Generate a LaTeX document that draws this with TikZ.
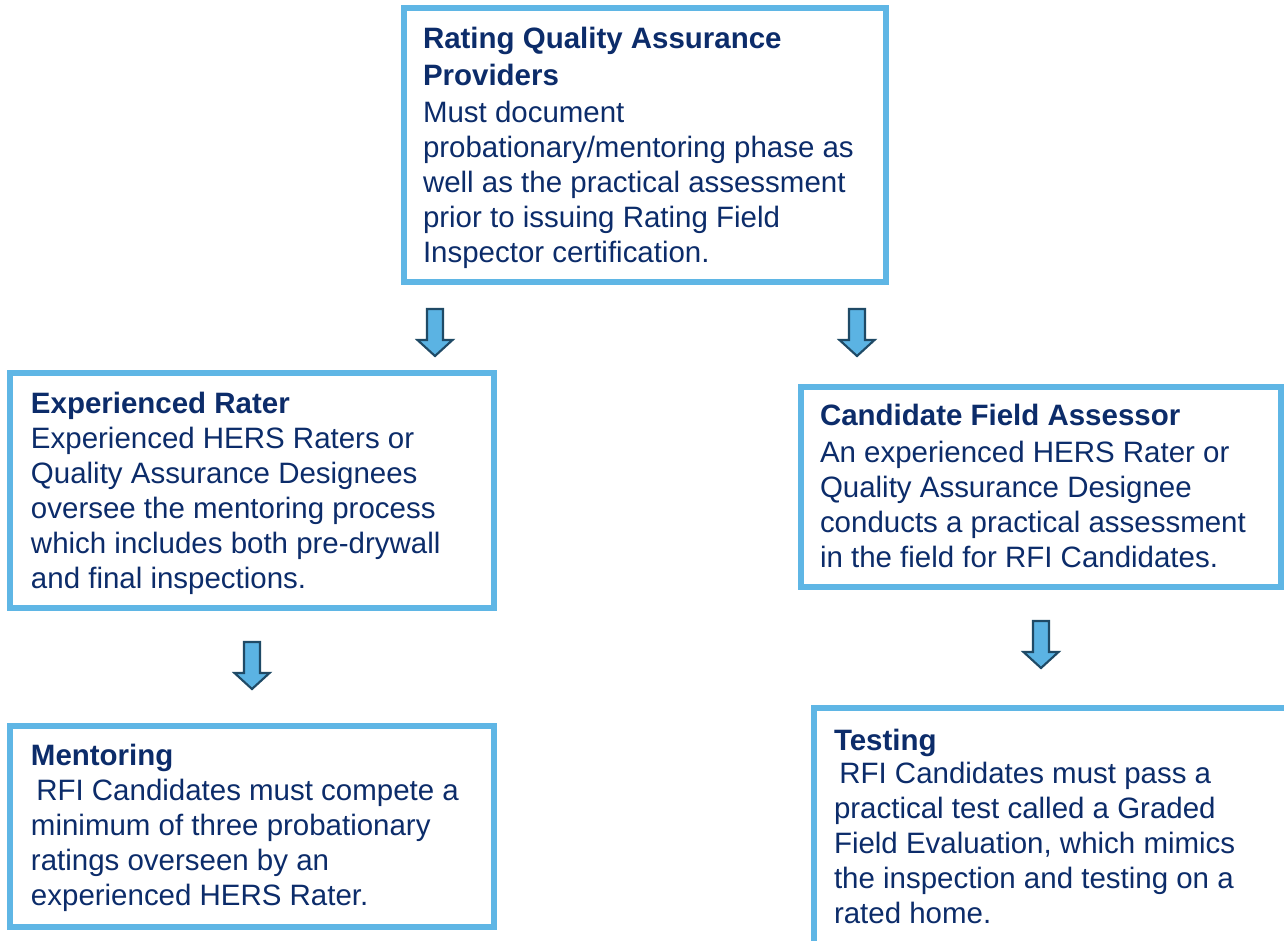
\documentclass[tikz,border=0pt]{standalone}
\usepackage{fontspec}
\setmainfont{Liberation Sans}
\definecolor{boxblue}{HTML}{5FB6E5}
\definecolor{arrfill}{HTML}{5BB3E3}
\definecolor{arrline}{HTML}{1F4A66}
\definecolor{navy}{HTML}{0C2C6A}
\begin{document}
\begin{tikzpicture}[x=0.75pt,y=-0.75pt,
  box/.style={draw=boxblue, line width=4.5pt, rectangle, inner sep=0pt, outer sep=0pt, anchor=north west, fill=white},
  txt/.style={anchor=north west, align=left, inner sep=0pt, outer sep=0pt, text=navy,
    font=\fontsize{22.1pt}{26.25pt}\selectfont},
  blockarrow/.style={draw=arrline, fill=arrfill, line width=1.6pt, line join=miter},
  downarr/.pic={\draw[blockarrow] (-8,0) -- (8,0) -- (8,31) -- (17.5,31) -- (0,47) -- (-17.5,31) -- (-8,31) -- cycle;}
]
\clip (0,0) rectangle (1284,940);
\fill[white] (0,0) rectangle (1284,940);

% boxes
\node[box, minimum width=361.5pt, minimum height=205.5pt] (b1) at (404,8) {};
\node[box, minimum width=363pt, minimum height=176.25pt] (b2) at (10,373) {};
\node[box, minimum width=363pt, minimum height=150.75pt] (b3) at (10,726) {};
\node[box, minimum width=360pt, minimum height=150pt] (b4) at (801,387) {};
\node[box, minimum width=364.5pt, minimum height=189pt] (b5) at (814,708) {};

% texts
\node[txt] (t1) at (423,27) {\textbf{Rating Quality Assurance}\\[1.5pt]
\textbf{Providers}\\[1.5pt]
Must document\\
probationary/mentoring phase as\\
well as the practical assessment\\
prior to issuing Rating Field\\
Inspector certification.};

\node[txt] (t2) at (31,392) {\textbf{Experienced Rater}\\
Experienced HERS Raters or\\
Quality Assurance Designees\\
oversee the mentoring process\\
which includes both pre-drywall\\
and final inspections.};

\node[txt] (t3) at (31,744) {\textbf{Mentoring}\\
\hspace*{4pt}RFI Candidates must compete a\\
minimum of three probationary\\
ratings overseen by an\\
experienced HERS Rater.};

\node[txt] (t4) at (820,404) {\textbf{Candidate Field Assessor}\\[1.5pt]
An experienced HERS Rater or\\
Quality Assurance Designee\\
conducts a practical assessment\\
in the field for RFI Candidates.};

\node[txt] (t5) at (834,729) {\textbf{Testing}\\[-1.5pt]
\hspace*{4pt}RFI Candidates must pass a\\
practical test called a Graded\\
Field Evaluation, which mimics\\
the inspection and testing on a\\
rated home.};

% block arrows
\pic at (435,309) {downarr};
\pic at (857,309) {downarr};
\pic at (252,642) {downarr};
\pic at (1041,621) {downarr};
\end{tikzpicture}
\end{document}
